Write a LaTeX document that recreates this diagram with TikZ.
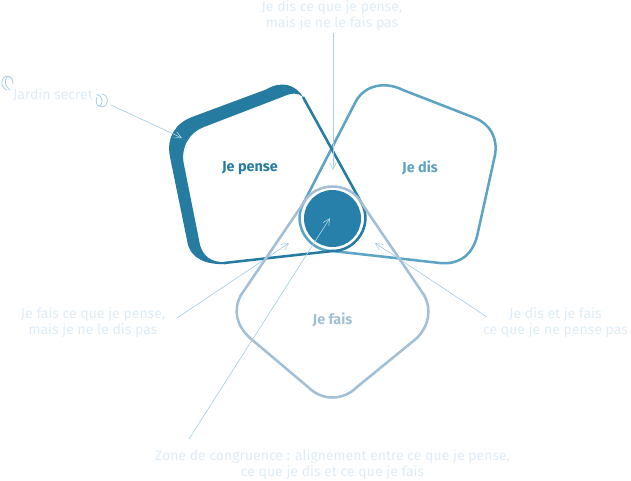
\documentclass[tikz,border=0pt]{standalone}
\usepackage{fontspec}
\setmainfont{Fira Sans}
\usetikzlibrary{arrows.meta}
\definecolor{penseblue}{HTML}{257BA0}
\definecolor{discblue}{HTML}{2780A9}
\definecolor{disblue}{HTML}{5CA3C4}
\definecolor{faisblue}{HTML}{A3BFD6}
\definecolor{labelblue}{HTML}{DFECF6}
\definecolor{pointerblue}{HTML}{A9CFE5}

\begin{document}
\begin{tikzpicture}[
		x = 0.75pt,
		y = -0.75pt,
		> = {Straight Barb[length=5pt,width=5pt]},
		outline/.style = {line width=1.9pt, line join=round},
		title/.style = {font=\fontsize{10.8}{12}\selectfont\bfseries},
		remark/.style = {text=labelblue, align=center, inner sep=0pt, font=\fontsize{10.5}{12}\selectfont},
		pointer/.style = {->, draw=pointerblue, line width=0.5pt},
		swirl/.style = {draw=pointerblue, line width=0.6pt}
		]
		\useasboundingbox (0,0) rectangle (631,480);
		% the three shapes
		\draw[outline, disblue] (332.5,251) .. controls (308.1,251) and (291.7,224.3) .. (303.5,203)
			-- (356,101) .. controls (365,85) and (385,81) .. (403,90)
			-- (475,118) .. controls (490,124) and (498,138) .. (495,155)
			-- (478,232) .. controls (474,254) and (460,265) .. (440,263) -- cycle;
		\fill[penseblue] (303,97) .. controls (296,85) and (282,80) .. (266,89.5)
			-- (192,117) .. controls (176,123) and (166,137) .. (170,157)
			-- (188,245) .. controls (192,258) and (205,265) .. (226,264)
			-- (226,262) .. controls (210,263) and (203,255) .. (200,245)
			-- (184,165) .. controls (180,147) and (190,132) .. (204,127)
			-- (282,97) .. controls (291,93) and (298,92) .. (303,97) -- cycle;
		\draw[outline, penseblue] (303,97) -- (361.5,203)
			.. controls (373.3,224.3) and (356.9,251) .. (332.5,251) -- (224,263);
		\draw[outline, faisblue] (303.5,203) .. controls (315.7,181) and (349.3,181) .. (361.5,203)
			-- (424,295) .. controls (432,310) and (429,325) .. (417,338)
			-- (357,387) .. controls (343,401) and (322,401) .. (308,387)
			-- (250,338) .. controls (236,325) and (233,310) .. (241,295) -- cycle;
		\fill[discblue] (332.5,218.5) circle[radius=28.5];
		% labels
		\node[title, text=penseblue] (pense) at (250,168) {Je pense};
		\node[title, text=disblue] (dis) at (420,168) {Je dis};
		\node[title, text=faisblue] (fais) at (332.5,320) {Je fais};
		\node[remark] (jardin) at (53,94.5) {Jardin secret};
		\node[remark] (disPense) at (332,15.5) {Je dis ce que je pense,\\mais je ne le fais pas};
		\node[remark] (faisPense) at (93,322.5) {Je fais ce que je pense,\\mais je ne le dis pas};
		\node[remark] (disFais) at (555.5,322.5) {Je dis et je fais\\ce que je ne pense pas};
		\node[remark] (zone) at (332.5,464.5) {Zone de congruence : alignement entre ce que je pense,\\ce que je dis et ce que je fais};
		% curls round the garden label
		\draw[swirl] (12,79) .. controls (8,74) and (3,76) .. (2,81) .. controls (1,85) and (4,89) .. (7,90);
		\draw[swirl] (13,84) .. controls (13,78) and (10,75) .. (7,77) .. controls (4,80) and (5,87) .. (10,90);
		\draw[swirl] (97,94) .. controls (102,96) and (104,102) .. (100,106) .. controls (97,108) and (95,100) .. (97,97);
		\draw[swirl] (102,94) .. controls (107,94) and (109,101) .. (106,105) .. controls (103,108) and (100,107) .. (98,105);
		% pointers
		\coordinate (jardinFrom) at (111,105);
		\coordinate (jardinTo) at (182,138);
		\coordinate (disPenseFrom) at (333,33);
		\coordinate (disPenseTo) at (333,170);
		\coordinate (faisPenseFrom) at (177,318);
		\coordinate (faisPenseTo) at (289,243);
		\coordinate (disFaisFrom) at (487,317);
		\coordinate (disFaisTo) at (375,243);
		\coordinate (zoneFrom) at (189,439);
		\coordinate (zoneTo) at (330,218);
		\draw[pointer] (jardinFrom) -- (jardinTo);
		\draw[pointer] (disPenseFrom) -- (disPenseTo);
		\draw[pointer] (faisPenseFrom) -- (faisPenseTo);
		\draw[pointer] (disFaisFrom) -- (disFaisTo);
		\draw[pointer] (zoneFrom) -- (zoneTo);
\end{tikzpicture}
\end{document}
